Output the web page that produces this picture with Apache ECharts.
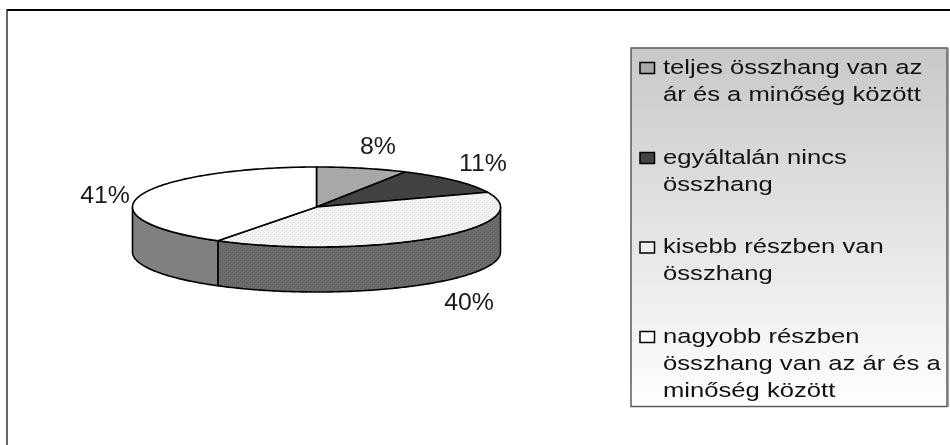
<!DOCTYPE html>
<html lang="hu">
<head>
<meta charset="utf-8">
<title>Ár és minőség összhangja</title>
<script src="https://cdn.jsdelivr.net/npm/echarts@6/dist/echarts.min.js"></script>
<style>
  html, body { margin: 0; padding: 0; background: #fff; }
  #chart { width: 950px; height: 445px; }
</style>
</head>
<body>
<div id="chart"></div>
<script>
const categories = [
  'teljes összhang van az ár és a minőség között',
  'egyáltalán nincs összhang',
  'kisebb részben van összhang',
  'nagyobb részben összhang van az ár és a minőség között'
];
const legendLines = [
  ['teljes összhang van az', 'ár és a minőség között'],
  ['egyáltalán nincs', 'összhang'],
  ['kisebb részben van', 'összhang'],
  ['nagyobb részben', 'összhang van az ár és a', 'minőség között']
];
const values = [8, 11, 40, 41];
const valueLabels = ['8%', '11%', '40%', '41%'];

// Small repeating tiles for the two dotted slice fills.
function dotTile(base, dot) {
  const c = document.createElement('canvas');
  c.width = c.height = 4;
  const g = c.getContext('2d');
  g.fillStyle = base;
  g.fillRect(0, 0, 4, 4);
  g.fillStyle = dot;
  g.fillRect(0, 0, 1, 1);
  g.fillRect(2, 2, 1, 1);
  return { image: c, repeat: 'repeat' };
}

const topFills = ['#a8a8a8', '#424242', dotTile('#f2f2f2', '#dedede'), '#ffffff'];
const wallFills = ['#707070', '#303030', dotTile('#6c6c6c', '#585858'), '#808080'];

// Pie geometry: an ellipse lying flat with a cylindrical rim.
const CX = 316.5, CY = 207, RX = 184, RY = 40, DEPTH = 45;
const total = values.reduce((a, b) => a + b, 0);
const STEP = Math.PI / 180;

function rimPoint(a, dy) {
  return [CX + RX * Math.sin(a), CY - RY * Math.cos(a) + (dy || 0)];
}

function arcPoints(from, to, dy) {
  const pts = [];
  const n = Math.max(2, Math.ceil((to - from) / STEP));
  for (let i = 0; i <= n; i++) pts.push(rimPoint(from + (to - from) * i / n, dy));
  return pts;
}

const labelPos = [[378, 148], [483, 165], [469, 304], [105, 197]];

function renderSlice(params, api) {
  const i = params.dataIndex;
  let before = 0;
  for (let k = 0; k < i; k++) before += values[k];
  const start = before / total * 2 * Math.PI;
  const end = start + api.value(0) / total * 2 * Math.PI;
  const lineStyle = { stroke: '#000', lineWidth: 1.6, lineJoin: 'round' };
  const children = [];

  // Only the front half of the rim (90° to 270°) is visible.
  const wallFrom = Math.max(start, Math.PI / 2);
  const wallTo = Math.min(end, Math.PI * 1.5);
  if (wallTo > wallFrom) {
    const upper = arcPoints(wallFrom, wallTo, 0);
    const lower = arcPoints(wallFrom, wallTo, DEPTH).reverse();
    children.push({
      type: 'polygon',
      shape: { points: upper.concat(lower) },
      style: Object.assign({ fill: wallFills[i] }, lineStyle)
    });
  }
  children.push({
    type: 'polygon',
    shape: { points: [[CX, CY]].concat(arcPoints(start, end, 0)) },
    style: Object.assign({ fill: topFills[i] }, lineStyle)
  });
  children.push({
    type: 'text',
    x: labelPos[i][0],
    y: labelPos[i][1],
    scaleX: 1.08,
    style: {
      text: valueLabels[i],
      fill: '#1a1a1a',
      font: '23px "Liberation Sans", Arial, sans-serif',
      align: 'center',
      verticalAlign: 'middle'
    }
  });
  return { type: 'group', children };
}

// Legend panel: gradient box, swatches and wrapped text.
const legendRows = [68, 158, 247.5, 337];
const LINE = 27.3;
const legendFont = '20.5px "Liberation Sans", Arial, sans-serif';
const legendGraphic = [{
  type: 'rect',
  shape: { x: 631, y: 48, width: 316, height: 358.5 },
  style: {
    fill: {
      type: 'linear', x: 0, y: 0, x2: 0, y2: 1,
      colorStops: [{ offset: 0, color: '#c8c8c8' }, { offset: 1, color: '#ffffff' }]
    },
    stroke: '#5a5a5a',
    lineWidth: 1.5
  }
}, {
  type: 'line',
  shape: { x1: 947.5, y1: 48, x2: 947.5, y2: 407 },
  style: { stroke: '#808080', lineWidth: 2.5 }
}];
legendLines.forEach((lines, i) => {
  legendGraphic.push({
    type: 'rect',
    shape: { x: 640, y: legendRows[i] - 5.5, width: 14.5, height: 11 },
    style: { fill: topFills[i], stroke: '#000', lineWidth: 1.5 }
  });
  lines.forEach((line, j) => {
    legendGraphic.push({
      type: 'text',
      x: 663,
      y: legendRows[i] + j * LINE,
      scaleX: 1.25,
      style: { text: line, fill: '#111', font: legendFont, align: 'left', verticalAlign: 'middle' }
    });
  });
});

const chart = echarts.init(document.getElementById('chart'), null, { renderer: 'canvas' });
chart.setOption({
  animation: false,
  backgroundColor: '#ffffff',
  graphic: [
    { type: 'line', shape: { x1: 6.5, y1: 10, x2: 950, y2: 10 }, style: { stroke: '#000', lineWidth: 2 } },
    { type: 'line', shape: { x1: 7, y1: 10, x2: 7, y2: 445 }, style: { stroke: '#333', lineWidth: 1.5 } }
  ].concat(legendGraphic),
  series: [{
    type: 'custom',
    coordinateSystem: 'none',
    renderItem: renderSlice,
    data: values.map((v, i) => ({ name: categories[i], value: [v] })),
    silent: true
  }]
});
</script>
</body>
</html>
